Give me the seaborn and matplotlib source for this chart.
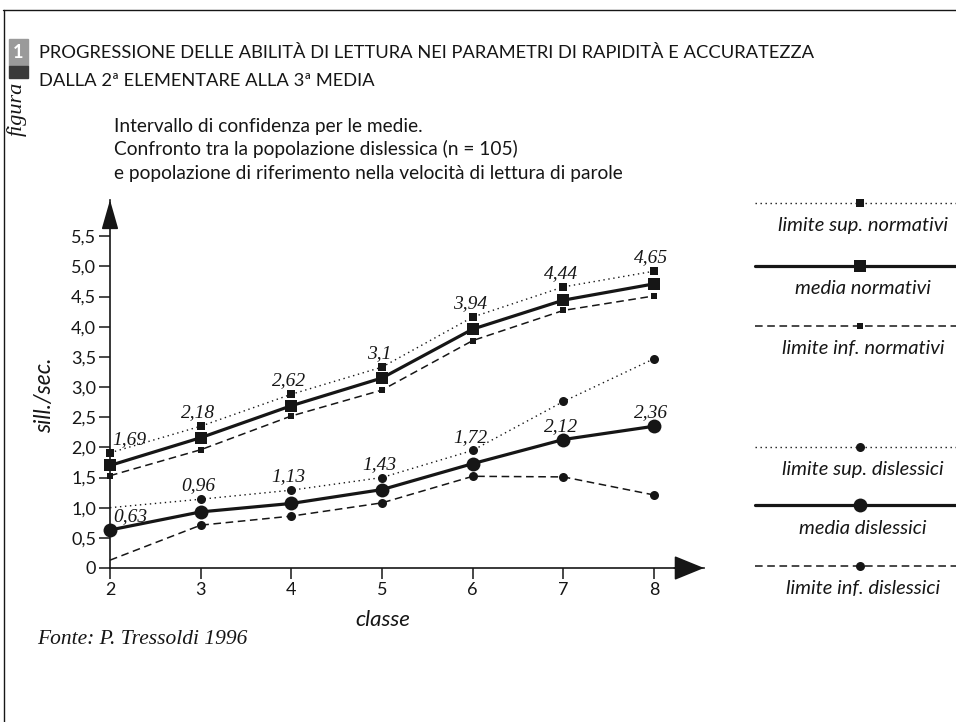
"""Progressione delle abilità di lettura: normativi vs dislessici (Tressoldi 1996)."""
import matplotlib.pyplot as plt
import numpy as np
import pandas as pd
import seaborn as sns
from matplotlib.lines import Line2D
from matplotlib.patches import Rectangle

# --- dati (sill./sec.) ---
classi = [2, 3, 4, 5, 6, 7, 8]
media_norm = [1.70, 2.16, 2.69, 3.15, 3.96, 4.44, 4.71]
sup_norm = [1.91, 2.35, 2.88, 3.33, 4.16, 4.66, 4.92]
inf_norm = [1.53, 1.96, 2.52, 2.95, 3.77, 4.27, 4.51]
media_dis = [0.63, 0.93, 1.07, 1.30, 1.73, 2.13, 2.35]
sup_dis = [1.00, 1.14, 1.29, 1.50, 1.95, 2.76, 3.47]
inf_dis = [0.13, 0.71, 0.86, 1.08, 1.52, 1.51, 1.21]
etichette_norm = ["1,69", "2,18", "2,62", "3,1", "3,94", "4,44", "4,65"]
etichette_dis = ["0,63", "0,96", "1,13", "1,43", "1,72", "2,12", "2,36"]
y_ticks = [0, 0.5, 1.0, 1.5, 2.0, 2.5, 3.0, 3.5, 4.0, 4.5, 5.0, 5.5]
y_ticklabels = ["0", "0,5", "1,0", "1,5", "2,0", "2,5", "3,0", "3,5", "4,0", "4,5", "5,0", "5,5"]

serie = {
    "limite sup. normativi": sup_norm,
    "media normativi": media_norm,
    "limite inf. normativi": inf_norm,
    "limite sup. dislessici": sup_dis,
    "media dislessici": media_dis,
    "limite inf. dislessici": inf_dis,
}
df = pd.concat(
    [pd.DataFrame({"classe": classi, "valore": v, "serie": k}) for k, v in serie.items()],
    ignore_index=True,
)

sns.set_theme(style="white")
plt.rcParams["font.family"] = ["Lato", "DejaVu Sans"]

INK = "#161616"
W, H = 956, 722
fig = plt.figure(figsize=(W / 100, H / 100), dpi=100)
fig.patch.set_facecolor("white")


def px(x, y):
    return x / W, 1 - y / H


# stile delle serie
stili = {
    "limite sup. normativi": dict(ls=(0, (1, 2.6)), lw=1.0, marker="s", ms=5.5),
    "media normativi": dict(ls="-", lw=2.3, marker="s", ms=9),
    "limite inf. normativi": dict(ls=(0, (5, 3)), lw=1.1, marker="s", ms=5),
    "limite sup. dislessici": dict(ls=(0, (1, 2.6)), lw=1.0, marker="o", ms=6.5),
    "media dislessici": dict(ls="-", lw=2.3, marker="o", ms=10),
    "limite inf. dislessici": dict(ls=(0, (5, 3)), lw=1.1, marker="o", ms=6.5),
}

ax = fig.add_axes([110 / W, 154 / H, 594 / W, 368 / H])
for nome, st in stili.items():
    sub = df[df["serie"] == nome]
    kw = dict(markevery=list(range(1, len(classi)))) if nome in ("limite sup. dislessici", "limite inf. dislessici") else {}
    sns.lineplot(
        data=sub, x="classe", y="valore", ax=ax, estimator=None, color=INK,
        linestyle=st["ls"], linewidth=st["lw"], marker=st["marker"], markersize=st["ms"],
        markeredgewidth=0, clip_on=False, legend=False, **kw,
    )

ax.set_xlim(2, 8.55)
ax.set_ylim(0, 6.1)
ax.set_xticks(classi)
ax.set_xticklabels([str(c) for c in classi], fontsize=13, color=INK)
ax.set_yticks(y_ticks)
ax.set_yticklabels(y_ticklabels, fontsize=13, color=INK)
ax.tick_params(axis="both", direction="out", length=8, width=1.1, color=INK, pad=2,
               left=True, bottom=True)
ax.set_xlabel("")
ax.set_ylabel("")
for s in ("top", "right"):
    ax.spines[s].set_visible(False)
for s in ("left", "bottom"):
    ax.spines[s].set_color(INK)
    ax.spines[s].set_linewidth(1.2)
ax.set_facecolor("none")

# frecce sugli assi
ax.annotate("", xy=(1.0, 0), xytext=(0.95, 0), xycoords=ax.get_yaxis_transform(),
            arrowprops=dict(arrowstyle="-|>,head_length=1.35,head_width=0.55", mutation_scale=14,
                            color=INK, lw=1.2, shrinkA=0, shrinkB=0))
ax.annotate("", xy=(2, 1.0), xytext=(2, 0.95), xycoords=ax.get_xaxis_transform(),
            arrowprops=dict(arrowstyle="-|>,head_length=1.4,head_width=0.4", mutation_scale=13,
                            color=INK, lw=1.2, shrinkA=0, shrinkB=0))

# etichette dei valori medi
serif = ["Liberation Serif", "DejaVu Serif"]
for media, sup, etich in ((media_norm, sup_norm, etichette_norm), (media_dis, sup_dis, etichette_dis)):
    for i, (x, m, s, t) in enumerate(zip(classi, media, sup, etich)):
        sup_visibile = not (i == 0 and media is media_dis)
        y = s if (sup_visibile and s - m < 0.5) else m
        ax.annotate(t, xy=(x, y), xytext=(2 if i == 0 else -2, 9.5), textcoords="offset points",
                    ha="left" if i == 0 else "center", va="center", fontsize=14,
                    style="italic", family=serif, color=INK)

fig.text(*px(45, 395), "sill./sec.", rotation=90, ha="center", va="center",
         fontsize=16.5, style="italic", color=INK)
fig.text(*px(383, 620), "classe", ha="center", va="center", fontsize=16, style="italic", color=INK)
fig.text(*px(37, 640), "Fonte: P. Tressoldi 1996", ha="left", va="center", fontsize=15.5,
         style="italic", family=serif, color=INK)

# titolo e sottotitolo
fig.text(*px(39, 58), "PROGRESSIONE DELLE ABILITÀ DI LETTURA NEI PARAMETRI DI RAPIDITÀ E ACCURATEZZA",
         ha="left", va="baseline", fontsize=13.2, color=INK)
fig.text(*px(39, 86), "DALLA 2ª ELEMENTARE ALLA 3ª MEDIA", ha="left", va="baseline", fontsize=13.2, color=INK)
sottotitolo = [
    "Intervallo di confidenza per le medie.",
    "Confronto tra la popolazione dislessica (n = 105)",
    "e popolazione di riferimento nella velocità di lettura di parole",
]
for k, riga in enumerate(sottotitolo):
    fig.text(*px(114, 132 + 23.5 * k), riga, ha="left", va="baseline", fontsize=13.8, color=INK)

# cornice della pagina e contrassegno "figura"
fig.add_artist(Line2D([3 / W, 1], [1 - 10 / H, 1 - 10 / H], color=INK, lw=1.0))
fig.add_artist(Line2D([4 / W, 4 / W], [0, 1 - 10 / H], color=INK, lw=1.0))
fig.add_artist(Rectangle(px(9, 66), 19 / W, 27 / H, color="#9a9a9a"))
fig.add_artist(Rectangle(px(9, 78), 19 / W, 12 / H, color="#3a3a3a"))
fig.text(*px(18.5, 53), "1", ha="center", va="center", fontsize=13, color="white", weight="bold")
fig.text(*px(17, 109), "figura", rotation=90, ha="center", va="center", fontsize=16,
         style="italic", family=serif, color=INK)

# legenda
lax = fig.add_axes([755 / W, 0, 201 / W, 1])
lax.set_xlim(0, 201)
lax.set_ylim(H, 0)
lax.axis("off")
y_leg = [203, 266, 326, 447, 505, 566]
for (nome, st), yl in zip(stili.items(), y_leg):
    lax.plot([0, 201], [yl, yl], color=INK, linestyle=st["ls"], linewidth=st["lw"], clip_on=False)
    lax.plot([105], [yl], color=INK, marker=st["marker"], markersize=st["ms"], markeredgewidth=0,
             linestyle="none", clip_on=False)
    lax.text(108, yl + 23, nome, ha="center", va="center", fontsize=14.5, style="italic", color=INK)

fig.savefig("out.png", dpi=100, facecolor="white")
plt.close(fig)
